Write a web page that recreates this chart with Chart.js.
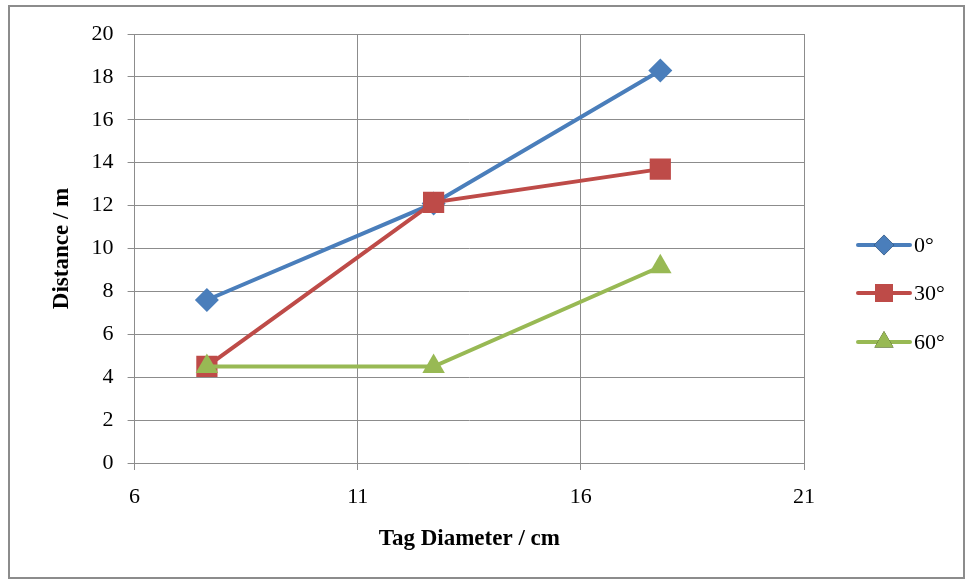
<!DOCTYPE html>
<html>
<head>
<meta charset="utf-8">
<script src="https://cdn.jsdelivr.net/npm/chart.js@4"></script>
<style>
  html, body { margin: 0; padding: 0; background: #fff; }
  #wrap { position: relative; width: 972px; height: 584px; }
  #frame { position: absolute; left: 8px; top: 5px; width: 957px; height: 574px; border: 2px solid #8c8c8c; box-sizing: border-box; pointer-events: none; }
</style>
</head>
<body>
<div id="wrap">
  <canvas id="chart" width="972" height="584"></canvas>
  <div id="frame"></div>
</div>
<script>
// tag diameters (cm) and read distances (m)
const diameters = [7.62, 12.7, 17.78];
const dist0 = [7.6, 12.1, 18.3];
const dist30 = [4.5, 12.15, 13.7];
const dist60 = [4.5, 4.5, 9.15];
const seriesNames = ['0°', '30°', '60°'];
const seriesColors = ['#4a7ebb', '#be4b48', '#98b954'];
const xTicks = [6, 11, 16, 21];

const FONT = '"Liberation Serif", "DejaVu Serif", serif';

function pts(ys) {
    return diameters.map((x, i) => ({ x: x, y: ys[i] }));
}

// legend drawn as line + marker, like the spreadsheet one
const sideLegend = {
    id: 'sideLegend',
    afterDraw(chart) {
        const ctx = chart.ctx;
        const x0 = 858, x1 = 910;
        const rows = [245, 293, 342];
        chart.data.datasets.forEach((ds, i) => {
            const y = rows[i];
            ctx.save();
            ctx.strokeStyle = ds.borderColor;
            ctx.lineWidth = 4;
            ctx.lineCap = 'round';
            ctx.beginPath();
            ctx.moveTo(x0, y);
            ctx.lineTo(x1, y);
            ctx.stroke();
            Chart.helpers.drawPoint(ctx, {
                pointStyle: ds.pointStyle,
                radius: ds.pointRadius * 0.85,
                borderWidth: 0
            }, (x0 + x1) / 2, y);
            ctx.fillStyle = ds.backgroundColor;
            ctx.fill();
            ctx.fillStyle = '#000';
            ctx.font = '22px ' + FONT;
            ctx.textBaseline = 'middle';
            ctx.fillText(ds.label, x1 + 4, y + 1);
            ctx.restore();
        });
    }
};

const styles = ['rectRot', 'rect', 'triangle'];
const radii = [12, 15, 13];
const allSeries = [dist0, dist30, dist60];

new Chart(document.getElementById('chart'), {
    type: 'scatter',
    data: {
        datasets: allSeries.map((ys, i) => ({
            label: seriesNames[i],
            data: pts(ys),
            order: allSeries.length - 1 - i, // later series painted on top
            showLine: true,
            borderColor: seriesColors[i],
            backgroundColor: seriesColors[i],
            borderWidth: 4,
            pointStyle: styles[i],
            pointRadius: radii[i],
            pointHoverRadius: radii[i],
            pointBorderWidth: 0,
            pointBackgroundColor: seriesColors[i]
        }))
    },
    options: {
        responsive: false,
        animation: false,
        layout: { padding: { left: 44, top: 34, right: 168, bottom: 27 } },
        plugins: { legend: { display: false }, tooltip: { enabled: false } },
        scales: {
            x: {
                type: 'linear',
                min: 6, max: 21,
                afterBuildTicks(axis) { axis.ticks = xTicks.map(v => ({ value: v })); },
                grid: { color: '#8c8c8c', lineWidth: 1, tickLength: 7 },
                border: { color: '#8c8c8c' },
                ticks: { color: '#000', font: { family: FONT, size: 22 }, padding: 14, maxRotation: 0 },
                title: { display: true, text: 'Tag Diameter / cm', color: '#000', font: { family: FONT, size: 23, weight: 'bold' }, padding: { top: 1 } }
            },
            y: {
                min: 0, max: 20,
                ticks: { stepSize: 2, color: '#000', font: { family: FONT, size: 22 }, padding: 14 },
                grid: { color: '#8c8c8c', lineWidth: 1, tickLength: 7 },
                border: { color: '#8c8c8c' },
                title: { display: true, text: 'Distance / m', color: '#000', font: { family: FONT, size: 23, weight: 'bold' }, padding: { bottom: 2 } }
            }
        }
    },
    plugins: [sideLegend]
});
</script>
</body>
</html>
